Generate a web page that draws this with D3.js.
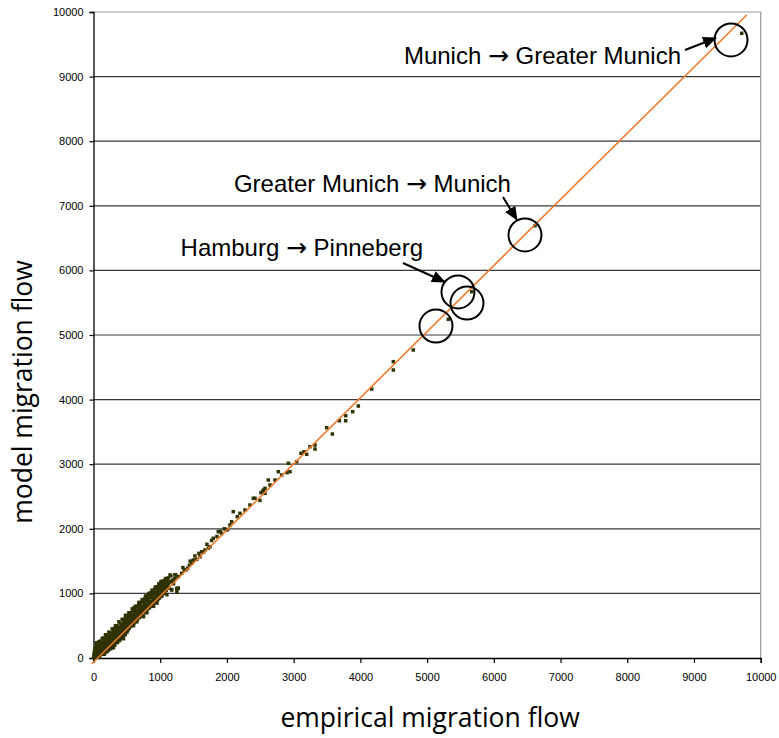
<!DOCTYPE html>
<html>
<head>
<meta charset="utf-8">
<script src="https://cdn.jsdelivr.net/npm/d3@7"></script>
<style>
  html, body { margin: 0; padding: 0; background: #fff; }
  svg { display: block; }
</style>
</head>
<body>
<svg id="chart" width="779" height="738"></svg>
<script>
// Axis ticks (flows, persons)
const xTicks = [0, 1000, 2000, 3000, 4000, 5000, 6000, 7000, 8000, 9000, 10000];
const yTicks = [0, 1000, 2000, 3000, 4000, 5000, 6000, 7000, 8000, 9000, 10000];

// Observed (empirical) vs. predicted (model) migration flows
const empirical = [
  5,8,12,15,20,22,28,30,35,40,42,45,50,55,60,62,70,75,80,85,90,95,100,105,110,115,120,125,130,135,
  140,150,155,160,165,170,175,180,190,195,200,205,210,215,220,230,235,240,245,250,255,260,265,270,280,285,290,295,
  300,305,310,315,320,330,335,340,345,350,355,360,370,375,380,385,390,395,400,405,410,415,420,425,430,440,445,450,
  455,460,470,475,480,485,490,495,500,505,510,515,520,525,530,535,540,550,555,560,565,570,575,580,590,595,600,605,
  610,615,620,625,630,640,645,650,655,660,670,675,680,685,690,700,705,710,715,720,730,735,740,745,750,760,765,770,
  775,780,790,795,800,805,810,820,825,830,835,840,850,855,860,865,870,880,885,890,895,900,910,915,920,925,930,940,
  945,950,955,960,970,975,980,985,990,1000,1005,1010,1020,1025,1030,1040,1045,1050,1060,1070,1080,1090,1100,1110,
  1120,1130,1150,1160,1170,1180,1200,1220,1250,1270,
  60,150,250,300,450,600,750,900,65,180,360,520,690,860,30,240,470,630,820,980,
  1146,1121,1071,1046,1196,1221,1236,1147,1271,1321,1361,1386,1437,1472,1496,1547,1596,1622,1671,1746,
  1770,1795,1870,1920,1995,2045,2070,2095,2155,2195,2270,2345,2420,2495,2570,2395,2510,2540,2550,2570,
  2645,2620,2720,2770,2820,2900,2945,2920,3045,3110,3155,3195,3245,3320,3320,3495,3580,3685,3780,3780,
  3885,3969,4170,4494,4494,4793,5318,5668,6617,9715,1172,1271,1247,
  1340,1410,1450,1520,1580,1650,1700,1720,1850,1900,1960,2010
];
const model = [
  20,60,35,110,15,80,50,150,30,95,235,60,20,130,75,180,45,110,160,70,20,130,90,200,55,150,105,240,70,175,
  120,85,210,140,60,260,180,110,230,150,95,290,200,160,120,250,180,330,140,220,270,190,150,300,240,350,200,170,
  280,390,230,320,200,360,270,420,250,310,380,240,340,450,290,400,270,350,480,320,410,300,370,510,340,440,330,400,
  540,380,470,360,560,420,500,400,610,450,530,430,660,480,580,460,520,640,490,700,540,600,510,660,560,730,620,540,
  680,590,760,640,570,700,610,800,660,600,740,650,830,700,630,780,680,860,730,660,800,720,890,760,700,840,740,920,
  790,730,870,770,950,820,760,900,800,980,850,780,930,830,1010,870,810,960,860,1040,910,840,990,880,1070,940,870,1010,
  910,1100,970,900,1040,940,1120,1000,930,1080,980,1150,1030,960,1110,1060,1190,1000,1130,1080,1210,1050,1160,1120,
  1240,1090,1180,1270,1060,1200,1150,1290,1030,1080,
  10,60,150,160,300,500,640,800,120,300,480,650,820,1000,90,330,560,720,900,1060,
  1182,1156,1104,1079,1207,1235,1285,1285,1259,1311,1362,1362,1435,1466,1517,1528,1568,1645,1672,1723,
  1820,1853,1955,1930,1981,2059,2110,2265,2187,2240,2291,2368,2472,2440,2549,2472,2560,2585,2600,2627,
  2678,2755,2755,2884,2833,2870,2884,3014,3039,3169,3193,3153,3271,3297,3235,3565,3467,3673,3751,3673,
  3813,3901,4164,4587,4458,4768,5243,5670,6692,9670,1053,1079,1078,
  1400,1390,1500,1580,1620,1640,1760,1700,1880,1960,2000,1990
];

// Further small flows in the dense band below 1200
const clusterEmpirical = [
  20,40,65,90,110,135,160,185,210,230,255,280,300,325,345,370,395,415,440,460,485,505,530,550,575,
  600,620,645,665,690,710,735,755,780,800,825,845,870,890,915,935,960,980,1000,1030,1050,1075,1100,1125,
  15,45,70,95,120,145,170,195,225,250,275,300,330,355,380,405,430,460,485,510,540,565,590,615,640,
  665,695,720,745,770,795,820,845,870,895,920,945,970,995,1020,1050,1080,1110,
  50,100,150,200,250,300,350,400,450,500,550,600,650,700,750,800,850,900,950,1000,1050,1100,
  320,480,610,740,880,1010,
  80,130,180,230,280,330,380,430,480,530,580,630,680,730,780,830,880,930,980,1030,1080,
  200,350,500,650,800,950,1100
];
const clusterModel = [
  140,170,200,175,240,230,280,260,320,300,350,330,380,410,390,440,430,470,500,480,530,560,540,590,620,
  600,650,680,660,710,740,730,780,800,790,840,870,860,900,930,920,970,1000,1000,1060,1080,1110,1130,1170,
  0,20,30,50,60,100,120,130,170,190,210,240,280,300,320,350,380,420,440,470,490,520,540,560,590,
  620,650,680,700,720,750,770,800,830,850,880,900,920,950,980,1030,1040,1080,
  210,260,310,350,390,440,500,540,590,640,690,740,790,830,880,930,980,1030,1070,1120,1170,1210,
  460,620,780,900,1040,1180,
  250,300,360,400,450,500,560,600,660,700,760,800,860,900,960,1000,1050,1100,1150,1190,1230,
  120,270,400,560,700,850,980
];

// Fitted line endpoints
const fitEmpirical = [-27, 9790];
const fitModel = [-93, 9954];

// Highlighted flows (ring centres) and their captions
const ringEmpirical = [9555, 6467, 5463, 5598, 5133];
const ringModel = [9567, 6548, 5666, 5495, 5139];
const captionFrom = ["Munich", "Greater Munich", "Hamburg"];
const captionTo = ["Greater Munich", "Munich", "Pinneberg"];
const captionRing = [0, 1, 2];

const svg = d3.select("#chart");
const x = d3.scaleLinear().domain([0, 10000]).range([93.5, 760.7]);
const y = d3.scaleLinear().domain([0, 10000]).range([658, 12]);

// Horizontal gridlines
svg.append("g").selectAll("line")
  .data(yTicks.filter(t => t > 0 && t < 10000))
  .join("line")
  .attr("x1", x(0)).attr("x2", x(10000))
  .attr("y1", d => y(d)).attr("y2", d => y(d))
  .attr("stroke", "#3a3a3a").attr("stroke-width", 1.2);

// Plot-area frame (top and right)
svg.append("path")
  .attr("d", `M${x(0)},${y(10000)}H${x(10000)}V${y(0)}`)
  .attr("fill", "none").attr("stroke", "#9a9a9a").attr("stroke-width", 1.2);

// Axes
const font = "'Liberation Sans', Arial, sans-serif";
const yAxis = d3.axisLeft(y).tickValues(yTicks).tickSize(4).tickPadding(6).tickFormat(d3.format("d"));
const xAxis = d3.axisBottom(x).tickValues(xTicks).tickSize(5).tickPadding(10).tickFormat(d3.format("d"));

const gy = svg.append("g").attr("transform", `translate(${x(0)},0)`).call(yAxis);
const gx = svg.append("g").attr("transform", `translate(0,${y(0)})`).call(xAxis);
[gy, gx].forEach(g => {
  g.select(".domain").attr("stroke", "#000").attr("stroke-width", 1.3);
  g.selectAll(".tick line").attr("stroke", "#000").attr("stroke-width", 1.2);
  g.selectAll(".tick text").attr("font-family", font).attr("font-size", 11).attr("fill", "#000");
});

// Scatter points
const pts = empirical.map((e, i) => [e, model[i]])
  .concat(clusterEmpirical.map((e, i) => [e, clusterModel[i]]));
svg.append("g").selectAll("rect")
  .data(pts)
  .join("rect")
  .attr("x", d => x(d[0]) - 1.75).attr("y", d => y(d[1]) - 1.75)
  .attr("width", 3.5).attr("height", 3.5)
  .attr("fill", "#2e3300");

// Fitted line
svg.append("line")
  .attr("x1", x(fitEmpirical[0])).attr("y1", y(fitModel[0]))
  .attr("x2", x(fitEmpirical[1])).attr("y2", y(fitModel[1]))
  .attr("stroke", "#f07a2a").attr("stroke-width", 1.6);

// Rings around highlighted flows
svg.append("g").selectAll("circle")
  .data(ringEmpirical.map((e, i) => [e, ringModel[i]]))
  .join("circle")
  .attr("cx", d => x(d[0])).attr("cy", d => y(d[1])).attr("r", 16.5)
  .attr("fill", "none").attr("stroke", "#000").attr("stroke-width", 2);

// Arrow heads
svg.append("defs").append("marker")
  .attr("id", "head").attr("viewBox", "0 0 14 12").attr("refX", 13).attr("refY", 6)
  .attr("markerWidth", 14).attr("markerHeight", 12).attr("markerUnits", "userSpaceOnUse")
  .attr("orient", "auto")
  .append("path").attr("d", "M0,0L14,6L0,12Z").attr("fill", "#000");

// Caption layout relative to its ring: arrow tail, arrow tip, text end/baseline
const captionLayout = [
  { tail: [-46, 10], tip: [-15, -2], text: [-50, 24] },
  { tail: [-22, -38], tip: [-8, -15], text: [-14, -43] },
  { tail: [-55, -29], tip: [-13, -10], text: [-35, -36] }
];
captionFrom.forEach((c, i) => {
  const r = captionRing[i];
  const cx = x(ringEmpirical[r]), cy = y(ringModel[r]);
  const L = captionLayout[i];
  svg.append("line")
    .attr("x1", cx + L.tail[0]).attr("y1", cy + L.tail[1])
    .attr("x2", cx + L.tip[0]).attr("y2", cy + L.tip[1])
    .attr("stroke", "#000").attr("stroke-width", 2)
    .attr("marker-end", "url(#head)");
  const t = svg.append("text")
    .attr("x", cx + L.text[0]).attr("y", cy + L.text[1])
    .attr("text-anchor", "end")
    .attr("font-family", font).attr("font-size", 24).attr("fill", "#000");
  t.append("tspan").text(c + " ");
  t.append("tspan").attr("font-family", "'DejaVu Sans', sans-serif").attr("font-size", 25).text("\u2192");
  t.append("tspan").text(" " + captionTo[i]);
});

// Axis titles
const titleFont = "'Open Sans', Lato, sans-serif";
svg.append("text")
  .attr("x", (x(0) + x(10000)) / 2 + 3).attr("y", 727)
  .attr("text-anchor", "middle")
  .attr("font-family", titleFont).attr("font-size", 26.5).attr("fill", "#000")
  .text("empirical migration flow");
svg.append("text")
  .attr("transform", "translate(32,392) rotate(-90)")
  .attr("text-anchor", "middle")
  .attr("font-family", titleFont).attr("font-size", 26.5).attr("fill", "#000")
  .text("model migration flow");
</script>
</body>
</html>
